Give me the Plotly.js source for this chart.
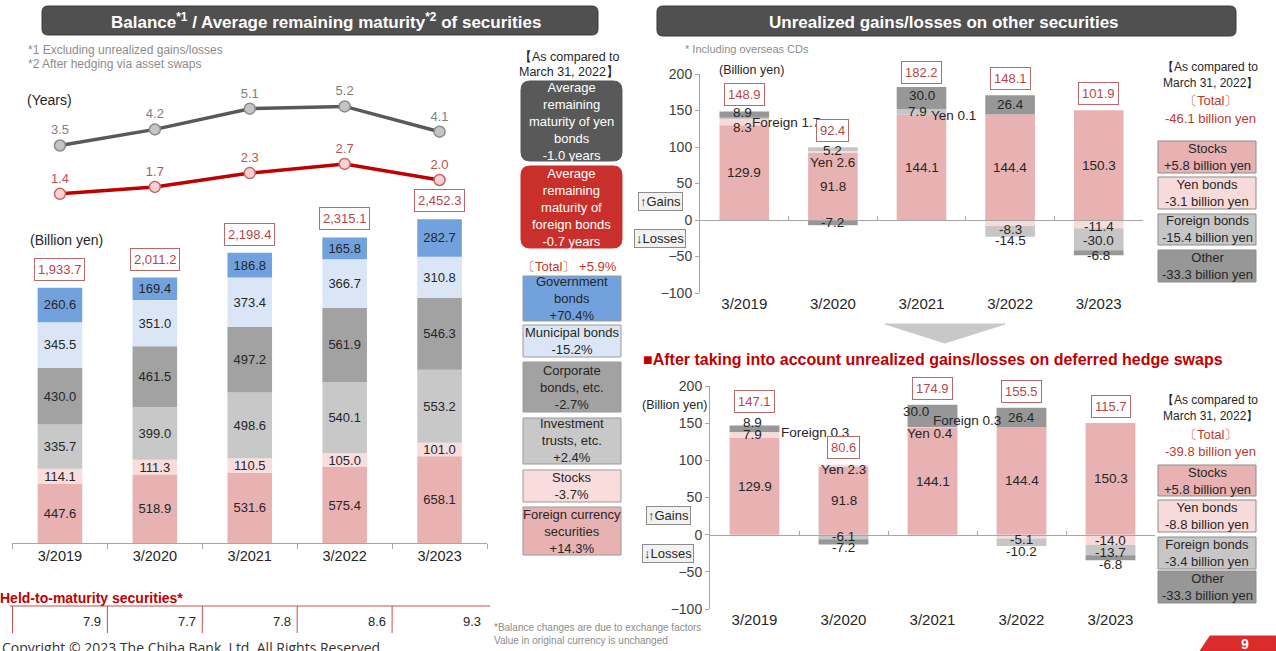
<!DOCTYPE html>
<html><head><meta charset="utf-8">
<script src="https://cdn.plot.ly/plotly-3.0.1.min.js"></script>
<style>html,body{margin:0;padding:0;background:#fff;overflow:hidden}</style>
</head><body><div id="chart" style="width:1276px;height:651px"></div>
<script>
// ---------------- DATA ----------------
const years = ['3/2019','3/2020','3/2021','3/2022','3/2023'];
// Balance of securities (billion yen)
const foreignSec   = [447.6, 518.9, 531.6, 575.4, 658.1];
const stocksBal    = [114.1, 111.3, 110.5, 105.0, 101.0];
const investTrusts = [335.7, 399.0, 498.6, 540.1, 553.2];
const corpBonds    = [430.0, 461.5, 497.2, 561.9, 546.3];
const muniBonds    = [345.5, 351.0, 373.4, 366.7, 310.8];
const govBonds     = [260.6, 169.4, 186.8, 165.8, 282.7];
const balanceTotals = [1933.7, 2011.2, 2198.4, 2315.1, 2452.3];
// Average remaining maturity (years)
const yenMaturity     = [3.5, 4.2, 5.1, 5.2, 4.1];
const foreignMaturity = [1.4, 1.7, 2.3, 2.7, 2.0];
// Held-to-maturity securities
const heldToMaturity = [7.9, 7.7, 7.8, 8.6, 9.3];
// Changes vs March 31, 2022 (left)
const balanceLegendNames = ['Government<br>bonds','Municipal bonds','Corporate<br>bonds, etc.','Investment<br>trusts, etc.','Stocks','Foreign currency<br>securities'];
const balanceChanges = ['+70.4%','-15.2%','-2.7%','+2.4%','-3.7%','+14.3%'];
const balanceTotalChange = '+5.9%';
const yenMaturityChange = '-1.0';
const foreignMaturityChange = '-0.7';
// Unrealized gains/losses on other securities (billion yen)
const ugStocks  = [129.9, 91.8, 144.1, 144.4, 150.3];
const ugYen     = [8.3, 2.6, 0.1, -8.3, -11.4];
const ugForeign = [1.7, 5.2, 7.9, -14.5, -30.0];
const ugOther   = [8.9, -7.2, 30.0, 26.4, -6.8];
const ugTotals  = [148.9, 92.4, 182.2, 148.1, 101.9];
// After deferred hedge swaps
const hgStocks  = [129.9, 91.8, 144.1, 144.4, 150.3];
const hgYen     = [7.9, 2.3, 0.4, -5.1, -14.0];
const hgForeign = [0.3, -6.1, 0.3, -10.2, -13.7];
const hgOther   = [8.9, -7.2, 30.0, 26.4, -6.8];
const hgTotals  = [147.1, 80.6, 174.9, 155.5, 115.7];
const ugLegendNames = ['Stocks','Yen bonds','Foreign bonds','Other'];
const ugChanges = ['+5.8','-3.1','-15.4','-33.3'];
const ugTotalChange = '-46.1';
const hgChanges = ['+5.8','-8.8','-3.4','-33.3'];
const hgTotalChange = '-39.8';

// ---------------- STYLE / LAYOUT HELPERS ----------------
const W = 1276, H = 651;
const X = x => x / W, Y = y => 1 - y / H;
const FONT = 'Liberation Sans, Arial, sans-serif';
const DARK = '#262626', RED = '#c0392b', BOXRED = '#b5474a';
const fnt = (size, color) => ({family: FONT, size: size, color: color || DARK});
const ann = [], shapes = [];
function txt(x, y, text, o) {
  ann.push(Object.assign({xref:'paper', yref:'paper', x:X(x), y:Y(y), text:text, showarrow:false,
    xanchor:'center', yanchor:'middle', font:fnt(12)}, o || {}));
}
function rrect(x0, y0, x1, y1, r, fill, line) {
  const p = (x, y) => X(x).toFixed(5) + ',' + Y(y).toFixed(5);
  const path = 'M' + p(x0 + r, y0) + ' L' + p(x1 - r, y0) + ' Q' + p(x1, y0) + ' ' + p(x1, y0 + r) +
    ' L' + p(x1, y1 - r) + ' Q' + p(x1, y1) + ' ' + p(x1 - r, y1) + ' L' + p(x0 + r, y1) +
    ' Q' + p(x0, y1) + ' ' + p(x0, y1 - r) + ' L' + p(x0, y0 + r) + ' Q' + p(x0, y0) + ' ' + p(x0 + r, y0) + ' Z';
  shapes.push({type:'path', xref:'paper', yref:'paper', path:path, fillcolor:fill, line:{color:line || fill, width:1}, layer:'below'});
}
function rect(x0, y0, x1, y1, fill, line) {
  shapes.push({type:'rect', xref:'paper', yref:'paper', x0:X(x0), x1:X(x1), y0:Y(y1), y1:Y(y0),
    fillcolor:fill, line:{color:line || fill, width:1}, layer:'below'});
}

// axis domains
const dX1 = [X(12), X(487)], dY1 = [Y(543), Y(213)], dY2 = [Y(226), Y(88)];
const dX3 = [X(700), X(1143)], dY3 = [Y(293), Y(74)];
const dX4 = [X(710), X(1155)], dY4 = [Y(609), Y(386)];
const RR = [-100, 200];
const zeroPos = d => d[0] + (0 - RR[0]) / (RR[1] - RR[0]) * (d[1] - d[0]);

const data = [];
// ---------------- LEFT STACKED BARS ----------------
const balSeries = [
  {v: foreignSec, c: '#e8b2b2'},
  {v: stocksBal, c: '#f9dcdc'},
  {v: investTrusts, c: '#c8c8c8'},
  {v: corpBonds, c: '#a2a2a2'},
  {v: muniBonds, c: '#dae6f5'},
  {v: govBonds, c: '#72a2de'}
];
balSeries.forEach(s => data.push({type:'bar', x:years, y:s.v, xaxis:'x', yaxis:'y', width:0.47,
  marker:{color:s.c, line:{width:0}}, text:s.v.map(v => v.toFixed(1)), textposition:'inside',
  insidetextanchor:'middle', textangle:0, constraintext:'none', textfont:fnt(13), hoverinfo:'skip'}));
balanceTotals.forEach((t, i) => ann.push({xref:'x', yref:'y', x:years[i], y:t, yanchor:'bottom', yshift:7,
  text:t.toLocaleString('en-US', {minimumFractionDigits:1, maximumFractionDigits:1}), showarrow:false,
  font:fnt(13, BOXRED), bordercolor:'#b76a6a', borderwidth:1, borderpad:3, bgcolor:'#fff'}));

// ---------------- LINES (maturity) ----------------
data.push({type:'scatter', mode:'lines+markers+text', x:years, y:yenMaturity, xaxis:'x', yaxis:'y2',
  line:{color:'#595959', width:3.5}, marker:{size:11, color:'#c4c4c4', line:{color:'#8a8a8a', width:1.5}},
  text:yenMaturity.map(v => v.toFixed(1)), textposition:'top center', textfont:fnt(13, '#7f7f7f'),
  cliponaxis:false, hoverinfo:'skip'});
data.push({type:'scatter', mode:'lines+markers+text', x:years, y:foreignMaturity, xaxis:'x', yaxis:'y2',
  line:{color:'#c00000', width:3.5}, marker:{size:11, color:'#f8d2d2', line:{color:'#c86464', width:1.5}},
  text:foreignMaturity.map(v => v.toFixed(1)), textposition:'top center', textfont:fnt(13, '#c0504d'),
  cliponaxis:false, hoverinfo:'skip'});

// ---------------- RIGHT CHARTS ----------------
const ugColors = ['#e8b2b2', '#f7dada', '#c6c6c6', '#979797'];
const tags = ['', 'Yen', 'Foreign', ''];
// label offsets (pixels: dx right, dy down), per series per category
const ugStyle = [
  [{}, {}, {}, {}, {}],
  [{dx:-2, dy:5}, {dy:10, tag:1}, {dx:7, dy:1, tag:1, anchor:'left'}, {dy:6}, {dy:2}],
  [{dx:6, dy:4, tag:1, anchor:'left'}, {dy:1}, {dx:-4}, {dy:9}, {dy:1}],
  [{dx:-2, dy:-2}, {}, {dy:-3}, {}, {dy:3}]
];
const hgStyle = [
  [{}, {}, {}, {}, {}],
  [{dx:-2, dy:-1}, {dy:4, tag:1}, {dx:-3, dy:6, tag:1}, {dy:3}, {dy:1}],
  [{dx:24, dy:0, tag:1, anchor:'left'}, {dy:0}, {dx:-2, dy:-7, tag:1, anchor:'left'}, {dy:9}, {dy:2}],
  [{dx:-2, dy:-6}, {dy:6}, {dx:-17, dy:-4}, {}, {dy:7}]
];
function rightChart(series, totals, style, xa, ya, totShift) {
  series.forEach((v, si) => data.push({type:'bar', x:years, y:v, xaxis:xa, yaxis:ya, width:0.56,
    marker:{color:ugColors[si], line:{width:0}}, hoverinfo:'skip'}));
  years.forEach((yr, c) => {
    let pos = 0, neg = 0;
    series.forEach((vals, si) => {
      const v = vals[c];
      let mid;
      if (v >= 0) { mid = pos + v / 2; pos += v; } else { mid = neg + v / 2; neg += v; }
      const st = style[si][c] || {};
      ann.push({xref:xa, yref:ya, x:yr, y:mid, showarrow:false, text:(st.tag ? tags[si] + ' ' : '') + v.toFixed(1),
        xanchor:st.anchor || 'center', yanchor:'middle', xshift:st.dx || 0, yshift:-(st.dy || 0), font:fnt(13.5)});
    });
    ann.push({xref:xa, yref:ya, x:yr, y:pos, yanchor:'bottom', yshift:totShift[c], text:totals[c].toFixed(1),
      showarrow:false, font:fnt(13, BOXRED), bordercolor:'#b76a6a', borderwidth:1, borderpad:3, bgcolor:'#fff'});
  });
}
rightChart([ugStocks, ugYen, ugForeign, ugOther], ugTotals, ugStyle, 'x3', 'y3', [5, 5, 3, 5, 5]);
rightChart([hgStocks, hgYen, hgForeign, hgOther], hgTotals, hgStyle, 'x4', 'y4', [12, 6, 5, 5, 5]);
// dummy traces to realise zero-line axes
data.push({type:'scatter', x:[0], y:[null], xaxis:'x5', yaxis:'y3', hoverinfo:'skip'});
data.push({type:'scatter', x:[0], y:[null], xaxis:'x6', yaxis:'y4', hoverinfo:'skip'});

// ---------------- DECORATIONS & TEXT ----------------
// Left banner
rrect(42, 6, 598, 35, 6, '#505050', '#3a3a3a');
txt(326, 21, '<b>Balance<sup>*1</sup> / Average remaining maturity<sup>*2</sup> of securities</b>', {font:fnt(17, '#fff')});
txt(26, 50, '*1 Excluding unrealized gains/losses', {xanchor:'left', font:fnt(12, '#8c8c8c')});
txt(26, 64, '*2 After hedging via asset swaps', {xanchor:'left', font:fnt(12, '#8c8c8c')});
txt(25, 100, '(Years)', {xanchor:'left', font:fnt(14)});
txt(28, 240, '(Billion yen)', {xanchor:'left', font:fnt(14)});

// Middle legend column
txt(569, 57, '【As compared to', {font:fnt(12.5)});
txt(569, 72, 'March 31, 2022】', {font:fnt(12.5)});
rrect(521, 81, 622, 161, 9, '#595959');
txt(571.5, 121, 'Average<br>remaining<br>maturity of yen<br>bonds<br>' + yenMaturityChange + ' years', {font:fnt(13, '#fff')});
rrect(521, 166, 622, 248, 9, '#c9302c');
txt(571.5, 207, 'Average<br>remaining<br>maturity of<br>foreign bonds<br>' + foreignMaturityChange + ' years', {font:fnt(13, '#fff')});
txt(569, 266, '〔Total〕 ' + balanceTotalChange, {font:fnt(13, RED)});
const balBoxY = [[276, 321], [325, 357], [362, 412], [418, 464], [470, 502], [507, 555]];
const balBoxC = ['#72a2de', '#dae6f5', '#a2a2a2', '#c8c8c8', '#f9dcdc', '#e8b2b2'];
balanceLegendNames.forEach((n, i) => {
  rect(523, balBoxY[i][0], 621, balBoxY[i][1], balBoxC[i], '#9a9a9a');
  txt(572, (balBoxY[i][0] + balBoxY[i][1]) / 2, n + '<br>' + balanceChanges[i], {font:fnt(13)});
});

// Held-to-maturity table
txt(-2, 598, '<b>Held-to-maturity securities*</b>', {xanchor:'left', font:fnt(14, '#c00000')});
shapes.push({type:'line', xref:'paper', yref:'paper', x0:X(10), x1:X(490), y0:Y(606), y1:Y(606), line:{color:'#c0504d', width:1}});
years.forEach((yr, i) => shapes.push({type:'line', xref:'x', yref:'paper', x0:i - 0.5, x1:i - 0.5, y0:Y(606), y1:Y(633), line:{color:'#c0504d', width:1}}));
heldToMaturity.forEach((v, i) => ann.push({xref:'x', yref:'paper', x:i + 0.5, y:Y(621), xanchor:'right', yanchor:'middle', xshift:-4,
  text:v.toFixed(1), showarrow:false, font:fnt(13)}));
txt(386, 636, 'Copyright © 2023 The Chiba Bank, Ltd. All Rights Reserved.', {xanchor:'right', yanchor:'top', font:{family:'Open Sans, Liberation Sans, sans-serif', size:14, color:'#333'}});
txt(492, 627, '*Balance changes are due to exchange factors', {xanchor:'left', font:fnt(10, '#8c8c8c')});
txt(492, 640, 'Value in original currency is unchanged', {xanchor:'left', font:fnt(10, '#8c8c8c')});

// Right banner
rrect(657, 6, 1236, 36, 6, '#505050', '#3a3a3a');
txt(944, 22, '<b>Unrealized gains/losses on other securities</b>', {font:fnt(17, '#fff')});
txt(683, 49, '* Including overseas CDs', {xanchor:'left', font:fnt(11, '#8c8c8c')});
txt(717, 70, '(Billion yen)', {xanchor:'left', font:fnt(12.5)});
txt(640, 405, '(Billion yen)', {xanchor:'left', font:fnt(12.5)});
function gainsLoss(x, yg, yl) {
  txt(x, yg, '↑Gains', {font:fnt(13), bordercolor:'#8c8c8c', borderwidth:1, borderpad:1, bgcolor:'#f2f2f2'});
  txt(x, yl, '↓Losses', {font:fnt(13), bordercolor:'#8c8c8c', borderwidth:1, borderpad:1, bgcolor:'#f2f2f2'});
}
gainsLoss(660, 201, 238);
gainsLoss(668, 515, 553);
// arrow between charts
shapes.push({type:'path', xref:'paper', yref:'paper', fillcolor:'#c8c8c8', line:{color:'#c8c8c8', width:1},
  path:'M' + X(885) + ',' + Y(324) + ' L' + X(1005) + ',' + Y(324) + ' L' + X(945) + ',' + Y(343) + ' Z'});
txt(641, 359, '<b>■After taking into account unrealized gains/losses on deferred hedge swaps</b>', {xanchor:'left', font:fnt(16, '#c00000')});

function rightLegend(yTop, total, changes, boxY) {
  txt(1210, yTop, '【As compared to', {font:fnt(12)});
  txt(1210, yTop + 16, 'March 31, 2022】', {font:fnt(12)});
  txt(1210, yTop + 34, '〔Total〕', {font:fnt(13, RED)});
  txt(1210, yTop + 51, total + ' billion yen', {font:fnt(13, RED)});
  ugLegendNames.forEach((n, i) => {
    rect(1158, boxY[i][0], 1256, boxY[i][1], ugColors[i], '#8c8c8c');
    txt(1207, (boxY[i][0] + boxY[i][1]) / 2, n + '<br>' + changes[i] + ' billion yen', {font:fnt(13)});
  });
}
rightLegend(67, ugTotalChange, ugChanges, [[141, 173], [177, 209], [214, 245], [250, 282]]);
rightLegend(400, hgTotalChange, hgChanges, [[465, 496], [500, 532], [537, 569], [571, 603]]);

// page number
shapes.push({type:'path', xref:'paper', yref:'paper', fillcolor:'#dc2b2b', line:{color:'#dc2b2b', width:1},
  path:'M' + X(1200) + ',' + Y(651) + ' L' + X(1210) + ',' + Y(636) + ' L' + X(1276) + ',' + Y(636) + ' L' + X(1276) + ',' + Y(651) + ' Z'});
txt(1245, 644, '<b>9</b>', {font:fnt(14, '#fff')});

// ---------------- AXES ----------------
const yRight = (d, xa) => ({domain:d, anchor:xa, range:RR, showline:true, linecolor:'#a6a6a6', ticks:'outside', ticklen:4,
  tickcolor:'#a6a6a6', tickvals:[-100, -50, 0, 50, 100, 150, 200], tickfont:fnt(14, '#404040'), showgrid:false, zeroline:false, fixedrange:true});
const xRight = (d, ya) => ({domain:d, anchor:ya, type:'category', showline:false, ticks:'', tickfont:fnt(15), showgrid:false, zeroline:false});
const zeroAxis = (over, d) => ({overlaying:over, anchor:'free', position:zeroPos(d), type:'linear', range:[-0.5, 4.5],
  tickvals:[-0.5, 0.5, 1.5, 2.5, 3.5, 4.5], ticks:'inside', ticklen:4, tickcolor:'#a6a6a6', showticklabels:false,
  showline:true, linecolor:'#a6a6a6', showgrid:false, zeroline:false});

const layout = {
  width:W, height:H, margin:{l:0, r:0, t:0, b:0}, paper_bgcolor:'#fff', plot_bgcolor:'rgba(0,0,0,0)',
  showlegend:false, barmode:'relative', hovermode:false, font:{family:FONT, color:DARK},
  xaxis:{domain:dX1, anchor:'y', type:'category', showline:true, linecolor:'#a6a6a6', ticks:'outside', tickson:'boundaries',
    ticklen:5, tickcolor:'#a6a6a6', tickfont:fnt(14.5), showgrid:false, zeroline:false},
  yaxis:{domain:dY1, anchor:'x', range:[0, 2500], visible:false, fixedrange:true},
  yaxis2:{domain:dY2, anchor:'x', range:[0, 6], visible:false, fixedrange:true},
  xaxis3:xRight(dX3, 'y3'), yaxis3:yRight(dY3, 'x3'),
  xaxis4:xRight(dX4, 'y4'), yaxis4:yRight(dY4, 'x4'),
  xaxis5:zeroAxis('x3', dY3), xaxis6:zeroAxis('x4', dY4),
  shapes:shapes, annotations:ann
};
Plotly.newPlot('chart', data, layout, {displayModeBar:false, staticPlot:true});
</script></body></html>
